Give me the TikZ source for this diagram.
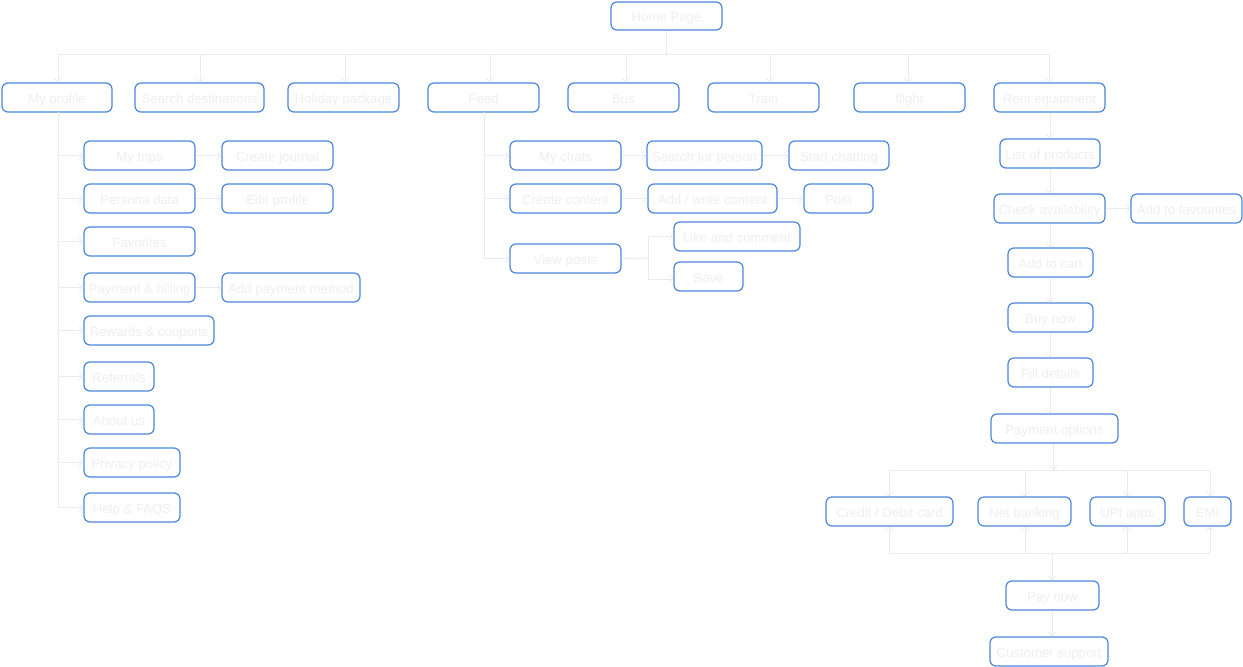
\documentclass[tikz,border=0pt]{standalone}
\usepackage{fontspec}
\setmainfont{Liberation Sans}
\usetikzlibrary{arrows.meta}
\definecolor{bord}{HTML}{4A86DE}
\definecolor{txt}{HTML}{EFEFEF}
\definecolor{lin}{HTML}{EBEBEB}
\tikzset{
  box/.style={draw=bord, line width=1.2pt, rounded corners=6pt, inner sep=0pt,
    text=txt, font=\fontsize{13.2}{15}\selectfont, text height=11.5pt, text depth=0.5pt},
  ln/.style={draw=lin, line width=0.9pt},
  arr/.style={ln, -{Straight Barb[length=4pt,width=8pt,line width=0.8pt]}},
}
\newcommand\bx[6]{\node[box, minimum width={(#4-#2)*1pt}, minimum height={(#5-#3)*1pt}]
  (#1) at ({(#2+#4)/2},{(#3+#5)/2}) {#6};}
\begin{document}
\begin{tikzpicture}[x=1pt,y=-1pt]
\fill[white] (0,0) rectangle (1243,667);
\useasboundingbox (0,0) rectangle (1243,667);
% top
\bx{home}{611}{2}{722}{30}{Home Page}
\bx{prof}{2}{83}{112}{112}{My profile}
\bx{srch}{135}{83}{264}{112}{Search destinations}
\bx{holi}{288}{83}{399}{112}{Holiday package}
\bx{feed}{428}{83}{539}{112}{Feed}
\bx{bus}{568}{83}{679}{112}{Bus}
\bx{train}{708}{83}{819}{112}{Train}
\bx{flight}{854}{83}{965}{112}{flight}
\bx{rent}{994}{83}{1105}{112}{Rent equipment}
% profile children
\bx{trips}{84}{141}{195}{170}{My trips}
\bx{journal}{222}{141}{333}{170}{Create journal}
\bx{pers}{84}{184}{195}{213}{Persona data}
\bx{edit}{222}{184}{333}{213}{Edit profile}
\bx{fav}{84}{227}{195}{256}{Favorites}
\bx{pay}{84}{273}{195}{302}{Payment \& billing}
\bx{addpay}{222}{273}{360}{302}{Add payment method}
\bx{rew}{84}{316}{214}{345}{Rewards \& coupons}
\bx{ref}{84}{362}{154}{391}{Referrals}
\bx{about}{84}{405}{154}{434}{About us}
\bx{priv}{84}{448}{180}{477}{Privacy policy}
\bx{help}{84}{493}{180}{522}{Help \& FAQS}
% feed children
\bx{chats}{510}{141}{621}{170}{My chats}
\bx{person}{647}{141}{762}{170}{Search for person}
\bx{start}{789}{141}{889}{170}{Start chatting}
\bx{create}{510}{184}{621}{213}{Create content}
\bx{write}{648}{184}{777}{213}{Add / write content}
\bx{post}{804}{184}{873}{213}{Post}
\bx{view}{510}{244}{621}{273}{View posts}
\bx{like}{674}{222}{800}{251}{Like and comment}
\bx{save}{674}{262}{743}{291}{Save}
% rent chain
\bx{list}{1000}{139}{1100}{168}{List of products}
\bx{check}{994}{194}{1105}{223}{Check availability}
\bx{favs}{1131}{194}{1242}{223}{Add to favourites}
\bx{cart}{1008}{248}{1093}{277}{Add to cart}
\bx{buy}{1008}{303}{1093}{332}{Buy now}
\bx{fill}{1008}{358}{1093}{387}{Fill details}
\bx{popt}{991}{414}{1118}{443}{Payment options}
\bx{card}{826}{497}{953}{526}{Credit / Debit card}
\bx{net}{978}{497}{1071}{526}{Net banking}
\bx{upi}{1090}{497}{1165}{526}{UPI apps}
\bx{emi}{1184}{497}{1231}{526}{EMI}
\bx{paynow}{1006}{581}{1099}{610}{Pay now}
\bx{cust}{990}{637}{1108}{666}{Customer support}
% top bus
\coordinate (hb) at (666,54);
\coordinate (t1) at (58,54);
\coordinate (t2) at (200,54);
\coordinate (t3) at (345,54);
\coordinate (t4) at (490,54);
\coordinate (t5) at (626,54);
\coordinate (t6) at (770,54);
\coordinate (t7) at (908,54);
\coordinate (t8) at (1049,54);
\draw[ln] (home.south -| hb) -- (hb);
\draw[ln] (t1) -- (t8);
\draw[arr] (t1) -- (t1 |- prof.north);
\draw[arr] (t2) -- (t2 |- srch.north);
\draw[arr] (t3) -- (t3 |- holi.north);
\draw[arr] (t4) -- (t4 |- feed.north);
\draw[arr] (t5) -- (t5 |- bus.north);
\draw[arr] (t6) -- (t6 |- train.north);
\draw[arr] (t7) -- (t7 |- flight.north);
\draw[arr] (t8) -- (t8 |- rent.north);
% profile tree
\coordinate (pv) at (58,112);
\draw[ln] (pv) -- (pv |- help.west);
\foreach \n in {trips,pers,fav,pay,rew,ref,about,priv,help}
  \draw[arr] (pv |- \n.west) -- (\n.west);
\draw[arr] (trips) -- (journal);
\draw[arr] (pers) -- (edit);
\draw[arr] (pay) -- (addpay);
% feed tree
\coordinate (fv) at (484,112);
\draw[ln] (fv) -- (fv |- view.west);
\foreach \n in {chats,create,view}
  \draw[arr] (fv |- \n.west) -- (\n.west);
\draw[arr] (chats) -- (person);
\draw[arr] (person) -- (start);
\draw[arr] (create) -- (write);
\draw[arr] (write) -- (post);
\coordinate (vb) at (648,258);
\draw[ln] (view.east) -- (vb);
\draw[ln] (vb |- like.west) -- (648,279);
\draw[arr] (vb |- like.west) -- (like.west);
\draw[arr] (648,279) -- (save.west |- 648,279);
% rent chain
\coordinate (rv) at (1050,0);
\draw[arr] (rv |- rent.south) -- (rv |- list.north);
\draw[arr] (rv |- list.south) -- (rv |- check.north);
\draw[arr] (check) -- (favs);
\draw[arr] (rv |- check.south) -- (rv |- cart.north);
\draw[arr] (rv |- cart.south) -- (rv |- buy.north);
\draw[arr] (rv |- buy.south) -- (rv |- fill.north);
\draw[arr] (rv |- fill.south) -- (rv |- popt.north);
% payment bus
\coordinate (pb) at (1053,470);
\coordinate (u1) at (889,470);
\coordinate (u2) at (1025,470);
\coordinate (u3) at (1127,470);
\coordinate (u4) at (1210,470);
\draw[arr] (pb |- popt.south) -- (pb);
\draw[ln] (u1) -- (u4);
\draw[arr] (u1) -- (u1 |- card.north);
\draw[arr] (u2) -- (u2 |- net.north);
\draw[arr] (u3) -- (u3 |- upi.north);
\draw[arr] (u4) -- (u4 |- emi.north);
\coordinate (l1) at (889,553);
\coordinate (l2) at (1025,553);
\coordinate (l3) at (1127,553);
\coordinate (l4) at (1210,553);
\coordinate (lb) at (1052,553);
\draw[ln] (l1) -- (l4);
\draw[arr] (l1) -- (l1 |- card.south);
\draw[arr] (l2) -- (l2 |- net.south);
\draw[arr] (l3) -- (l3 |- upi.south);
\draw[arr] (l4) -- (l4 |- emi.south);
\draw[arr] (lb) -- (lb |- paynow.north);
\draw[arr] (lb |- paynow.south) -- (lb |- cust.north);
\end{tikzpicture}
\end{document}
